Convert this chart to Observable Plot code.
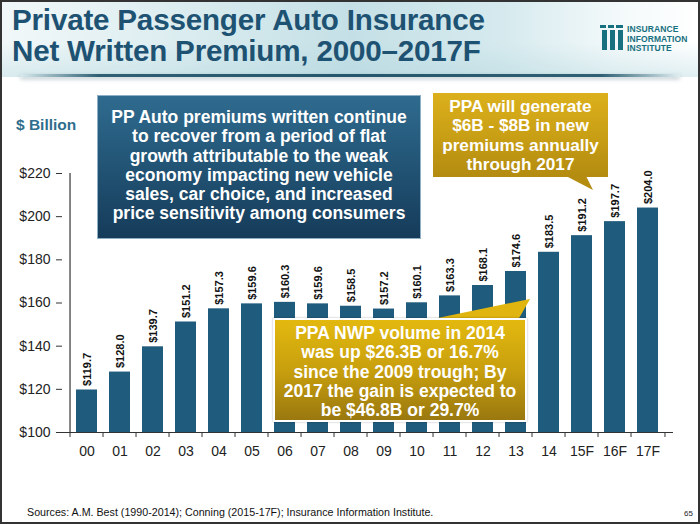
<!DOCTYPE html>
<html>
<head>
<meta charset="utf-8">
<script src="https://cdn.jsdelivr.net/npm/d3@7"></script>
<script src="https://cdn.jsdelivr.net/npm/@observablehq/plot@0.6"></script>
<style>
  html, body { margin: 0; padding: 0; background: #fff; }
  #wrap { position: relative; width: 700px; height: 524px; overflow: hidden; background: #fff;
          font-family: "Liberation Sans", Arial, sans-serif; }
  #header { position: absolute; left: 0; top: 0; width: 700px; height: 77px;
    background:
      linear-gradient(to bottom, rgba(255,255,255,0) 0%, rgba(255,255,255,0) 55%, rgba(170,210,218,0.35) 100%),
      linear-gradient(to right, #f2f8f9 0%, #dcedf0 25%, #c4e0e6 50%, #d6eaee 72%, #f3f9fa 88%, #ffffff 100%); }
  #shadow { position: absolute; left: 20px; top: 74px; width: 660px; height: 3px;
    background: linear-gradient(to right, rgba(43,92,112,0) 0%, #2e5f73 12%, #25566b 50%, #2e5f73 88%, rgba(43,92,112,0) 100%);
    box-shadow: 0 2px 4px rgba(40,80,100,0.35); border-radius: 2px; }
  #title { position: absolute; left: 12px; top: 4px; color: #1e5273; font-weight: bold; font-size: 29.6px;
    line-height: 31px; white-space: nowrap; letter-spacing: -0.2px; }
  .logo-bar { position: absolute; background: #17707f; }
  .logo-txt { position: absolute; left: 627px; color: #17707f; font-weight: bold; font-size: 8.5px; line-height: 9.5px; top: 25px; letter-spacing: 0.1px; }
  #unit { position: absolute; left: 16px; top: 116px; color: #2f6d8c; font-weight: bold; font-size: 15.5px; }
  .box { position: absolute; color: #fff; font-weight: bold; text-align: center; font-size: 17.5px; line-height: 19.3px; box-sizing: border-box; white-space: nowrap; }
  #bluebox { left: 97px; top: 95px; width: 324px; height: 144px; padding-top: 12px;
    background: linear-gradient(to bottom, #2f6b8f 0%, #235677 45%, #163b5a 100%);
    border: 1px solid #8fb0c4; }
  #goldtop { left: 433px; top: 93px; width: 175px; height: 84px; padding-top: 4px; font-size: 17.2px;
    background: linear-gradient(to bottom, #dcb01c 0%, #c99f15 50%, #b38b10 100%); }
  #goldbot { left: 273px; top: 318px; width: 254px; height: 104px; padding-top: 4px;
    background: linear-gradient(to bottom, #e3b90f 0%, #c89f0e 50%, #9a780f 100%);
    border: 2px solid #fff; box-shadow: 0 0 2px rgba(0,0,0,0.3); }
  #foot { position: absolute; left: 27px; top: 506px; font-size: 10.7px; color: #111; }
  #page { position: absolute; left: 684px; top: 509px; font-size: 8px; color: #222; }
  #frame { position: absolute; left: 0; top: 0; width: 700px; height: 524px; box-sizing: border-box;
    border: 2px solid #333; pointer-events: none; }
  #chart { position: absolute; left: 0; top: 150px; }
  #deco { position: absolute; left: 0; top: 0; }
</style>
</head>
<body>
<div id="wrap">
  <div id="header"></div>
  <div id="shadow"></div>
  <div id="title">Private Passenger Auto Insurance<br>Net Written Premium, 2000–2017F</div>
  <!-- logo -->
  <div class="logo-bar" style="left:600px;top:25px;width:6px;height:3px;"></div>
  <div class="logo-bar" style="left:608px;top:25px;width:6px;height:3px;"></div>
  <div class="logo-bar" style="left:616px;top:25px;width:7px;height:3px;"></div>
  <div class="logo-bar" style="left:602px;top:30px;width:5px;height:20px;"></div>
  <div class="logo-bar" style="left:610px;top:30px;width:5px;height:20px;"></div>
  <div class="logo-bar" style="left:618px;top:30px;width:5px;height:20px;"></div>
  <div class="logo-txt">INSURANCE<br>INFORMATION<br>INSTITUTE</div>

  <div id="unit">$ Billion</div>
  <div id="chart"></div>
  <svg id="deco" width="700" height="524"></svg>
  <div id="bluebox" class="box">PP Auto premiums written continue<br>to recover from a period of flat<br>growth attributable to the weak<br>economy impacting new vehicle<br>sales, car choice, and increased<br>price sensitivity among consumers</div>
  <div id="goldtop" class="box">PPA will generate<br>$6B - $8B in new<br>premiums annually<br>through 2017</div>
  <div id="goldbot" class="box">PPA NWP volume in 2014<br>was up $26.3B or 16.7%<br>since the 2009 trough; By<br>2017 the gain is expected to<br>be $46.8B or 29.7%</div>
  <div id="foot">Sources: A.M. Best (1990-2014); Conning (2015-17F); Insurance Information Institute.</div>
  <div id="page">65</div>
  <div id="frame"></div>
</div>
<script>
// ---- data ----
const years = ["00","01","02","03","04","05","06","07","08","09","10","11","12","13","14","15F","16F","17F"];
const premiums = [119.7,128.0,139.7,151.2,157.3,159.6,160.3,159.6,158.5,157.2,160.1,163.3,168.1,174.6,183.5,191.2,197.7,204.0];
const yTicks = [100,120,140,160,180,200,220];

const data = years.map((y, i) => ({year: y, value: premiums[i]}));

const W = 700, H = 320, mL = 62, mR = 27, mT = 23, mB = 38;
const step = (W - mL - mR) / years.length;
const barColor = "#1f5b7c";
const axisColor = "#333";

const chart = Plot.plot({
  width: W, height: H,
  marginLeft: mL, marginRight: mR, marginTop: mT, marginBottom: mB,
  x: {domain: years, paddingInner: 0.35, paddingOuter: 0.175, axis: null},
  y: {domain: [yTicks[0], yTicks[yTicks.length - 1]], axis: null},
  style: {fontFamily: "Liberation Sans, Arial, sans-serif", fontSize: "14px", color: "#222", background: "transparent", overflow: "visible"},
  marks: [
    Plot.barY(data, {x: "year", y1: yTicks[0], y2: "value", fill: barColor}),
    Plot.text(data, {x: "year", y: "value", text: d => "$" + d.value.toFixed(1), rotate: -90,
      textAnchor: "start", lineAnchor: "middle", dy: -4, fontWeight: "bold", fontSize: 11, fill: "#111"}),
    Plot.ruleY([yTicks[0]], {stroke: axisColor, strokeWidth: 1.2}),
    Plot.ruleX([years[0]], {y1: yTicks[0], y2: yTicks[yTicks.length - 1], dx: -step / 2, stroke: axisColor, strokeWidth: 1.2}),
    Plot.axisY({ticks: yTicks, tickFormat: d => "$" + d, tickSize: 6, tickPadding: 6, fontSize: 14, stroke: axisColor, label: null}),
    Plot.axisX({tickSize: 0, tickPadding: 14, fontSize: 14, label: null}),
    Plot.axisX({tickSize: 5, tickFormat: () => "", dx: -step / 2, stroke: axisColor, label: null}),
    Plot.axisX({ticks: [years[years.length - 1]], tickSize: 5, tickFormat: () => "", dx: step / 2, stroke: axisColor, label: null})
  ]
});
document.getElementById("chart").appendChild(chart);

// callout pointers
const deco = d3.select("#deco");
deco.append("polygon").attr("points", "566,176 586,176 593,190").attr("fill", "#b48c10");
deco.append("polygon").attr("points", "428,320 518,320 530,299").attr("fill", "#e0b50f");
</script>
</body>
</html>
